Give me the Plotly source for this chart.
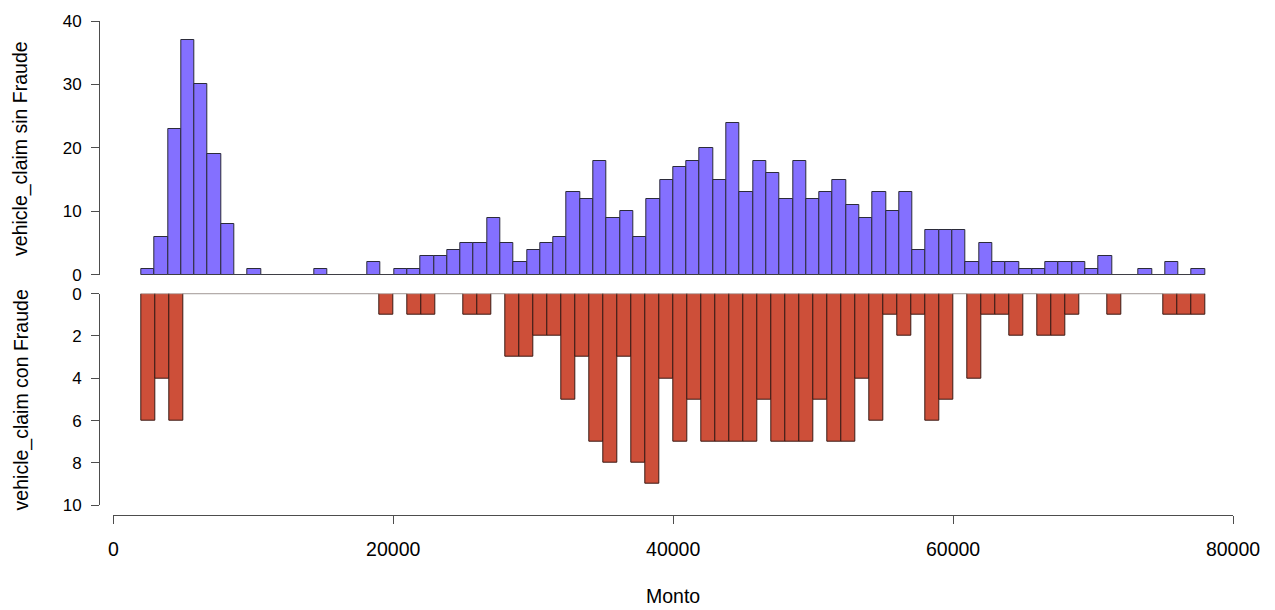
import numpy as np
import plotly.graph_objects as go

# ---- data ----
top_bin_start = 2000
top_bin_width = 950
top_counts = [1, 6, 23, 37, 30, 19, 8, 0, 1, 0,
              0, 0, 0, 1, 0, 0, 0, 2, 0, 1,
              1, 3, 3, 4, 5, 5, 9, 5, 2, 4,
              5, 6, 13, 12, 18, 9, 10, 6, 12, 15,
              17, 18, 20, 15, 24, 13, 18, 16, 12, 18,
              12, 13, 15, 11, 9, 13, 10, 13, 4, 7,
              7, 7, 2, 5, 2, 2, 1, 1, 2, 2,
              2, 1, 3, 0, 0, 1, 0, 2, 0, 1]

bot_bin_start = 2000
bot_bin_width = 1000
bot_counts = [6, 4, 6, 0, 0, 0, 0, 0, 0, 0,
              0, 0, 0, 0, 0, 0, 0, 1, 0, 1,
              1, 0, 0, 1, 1, 0, 3, 3, 2, 2,
              5, 3, 7, 8, 3, 8, 9, 4, 7, 5,
              7, 7, 7, 7, 5, 7, 7, 7, 5, 7,
              7, 4, 6, 1, 2, 1, 6, 5, 0, 4,
              1, 1, 2, 0, 2, 2, 1, 0, 0, 1,
              0, 0, 0, 1, 1, 1]

x_ticks = [0, 20000, 40000, 60000, 80000]
top_y_ticks = [0, 10, 20, 30, 40]
bot_y_ticks = [0, 2, 4, 6, 8, 10]
top_title = "vehicle_claim sin Fraude"
bot_title = "vehicle_claim con Fraude"
x_title = "Monto"

# ---- derived ----
top_centers = top_bin_start + top_bin_width * (np.arange(len(top_counts)) + 0.5)
bot_centers = bot_bin_start + bot_bin_width * (np.arange(len(bot_counts)) + 0.5)
top_end = top_bin_start + top_bin_width * len(top_counts)
bot_end = bot_bin_start + bot_bin_width * len(bot_counts)

W, H = 1275, 610
ml, mr, mt, mb = 99, 42.3, 15, 95
pw = W - ml - mr
ph = H - mt - mb
font = "Liberation Sans, Arial, sans-serif"
fs = 19.5
fs_y = 17
axcol = "#4d4d4d"
edge = "#2b2b3a"

fig = go.Figure()
fig.add_trace(go.Bar(x=top_centers, y=top_counts, width=top_bin_width,
                     marker=dict(color="#8470FF", line=dict(color=edge, width=1)),
                     xaxis="x", yaxis="y"))
fig.add_trace(go.Scatter(x=[top_bin_start, top_end], y=[0, 0], mode="lines",
                         line=dict(color=axcol, width=1), xaxis="x", yaxis="y"))
fig.add_trace(go.Bar(x=bot_centers, y=bot_counts, width=bot_bin_width,
                     marker=dict(color="#CD4F39", line=dict(color="#3a1a14", width=1)),
                     xaxis="x", yaxis="y2"))
fig.add_trace(go.Scatter(x=[bot_bin_start, bot_end], y=[0, 0], mode="lines",
                         line=dict(color="#8a8a8a", width=1), xaxis="x", yaxis="y2"))

x0_px = 113.3
x_dom0 = (x0_px - ml) / pw
top_dom = [1 - (272 - mt) / ph, 1.0]
bot_dom = [1 - (505 - mt) / ph, 1 - (291 - mt) / ph]

axis_common = dict(showgrid=False, zeroline=False, showline=True, linecolor=axcol,
                   linewidth=1, ticks="outside", ticklen=8, tickwidth=1,
                   tickcolor=axcol)

fig.update_layout(
    width=W, height=H, autosize=False,
    margin=dict(l=ml, r=mr, t=mt, b=mb, pad=0),
    paper_bgcolor="white", plot_bgcolor="white",
    showlegend=False, bargap=0, barmode="overlay",
    xaxis=dict(domain=[x_dom0, 1.0], range=[0, 80000], anchor="free", position=0,
               tickvals=x_ticks, tickformat="d", ticklabelstandoff=9,
               tickfont=dict(family=font, size=fs, color="#000"), **axis_common),
    yaxis=dict(domain=top_dom, range=[0, 40], anchor="free", position=0,
               tickvals=top_y_ticks, ticklabelstandoff=6,
               tickfont=dict(family=font, size=fs_y, color="#000"), **axis_common),
    yaxis2=dict(domain=bot_dom, range=[10, 0], anchor="free", position=0,
                tickvals=bot_y_ticks, ticklabelstandoff=6,
                tickfont=dict(family=font, size=fs_y, color="#000"), **axis_common),
    annotations=[
        dict(text=top_title, xref="paper", yref="paper", x=(21 - ml) / pw,
             y=sum(top_dom) / 2, textangle=-90, showarrow=False,
             xanchor="center", yanchor="middle",
             font=dict(family=font, size=fs, color="#000")),
        dict(text=bot_title, xref="paper", yref="paper", x=(21 - ml) / pw,
             y=sum(bot_dom) / 2, textangle=-90, showarrow=False,
             xanchor="center", yanchor="middle",
             font=dict(family=font, size=fs, color="#000")),
        dict(text=x_title, xref="x", yref="paper", x=40000,
             y=(515 - 597) / ph, showarrow=False, xanchor="center", yanchor="middle",
             font=dict(family=font, size=fs, color="#000")),
    ],
)

fig.write_html("out.html")
